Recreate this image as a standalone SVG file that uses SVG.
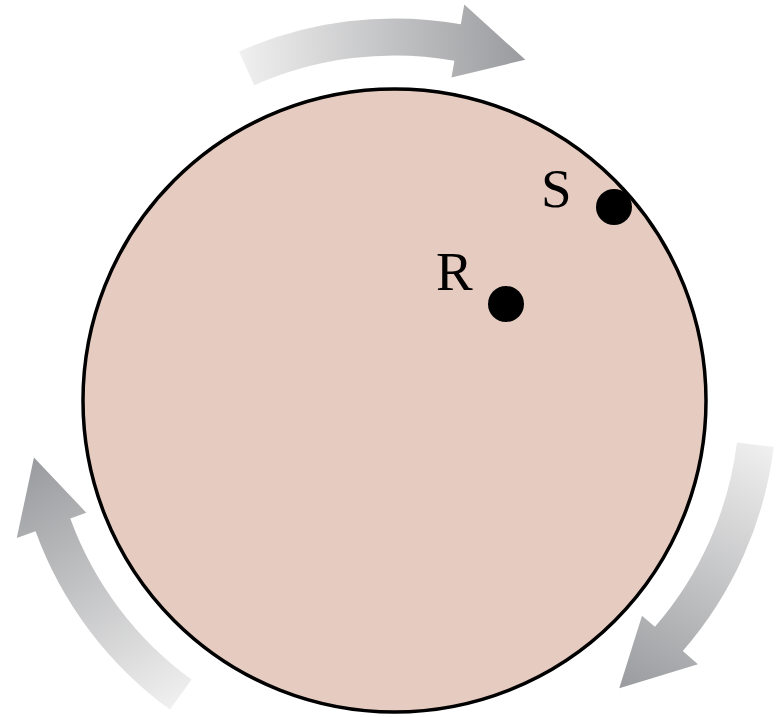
<svg xmlns="http://www.w3.org/2000/svg" width="780" height="717" viewBox="0 0 780 717">
<style>
.lbl{font-family:"Liberation Serif","Times New Roman",serif;font-size:55px;fill:#000}
.arrow{fill:url(#ag)}
</style>
<defs>
<linearGradient id="ag" gradientUnits="userSpaceOnUse" x1="-155" y1="-330" x2="131" y2="-340">
<stop offset="0" stop-color="#f0f0f0"/>
<stop offset="1" stop-color="#9a9b9e"/>
</linearGradient>
<path id="arc" class="arrow" d="M -155.4 -349.0 A 382 382 0 0 1 66.3 -376.2 L 69.8 -395.9 L 130.8 -340.8 L 57.0 -323.0 L 59.9 -339.8 A 345 345 0 0 0 -140.3 -315.2 Z"/>
</defs>
<g id="arrows">
<use href="#arc" transform="translate(394.5 400.5)"/>
<use href="#arc" transform="translate(394.5 400.5) rotate(121)"/>
<use href="#arc" transform="translate(394.5 400.5) rotate(240)"/>
</g>
<g id="disk">
<circle cx="394.5" cy="400.5" r="311.5" fill="#e6cbc1" stroke="#000" stroke-width="3.5"/>
</g>
<g id="S">
<circle cx="614" cy="207" r="18" fill="#000"/>
<text class="lbl" x="541" y="207">S</text>
</g>
<g id="R">
<circle cx="506" cy="304" r="18" fill="#000"/>
<text class="lbl" x="436" y="290">R</text>
</g>
</svg>
